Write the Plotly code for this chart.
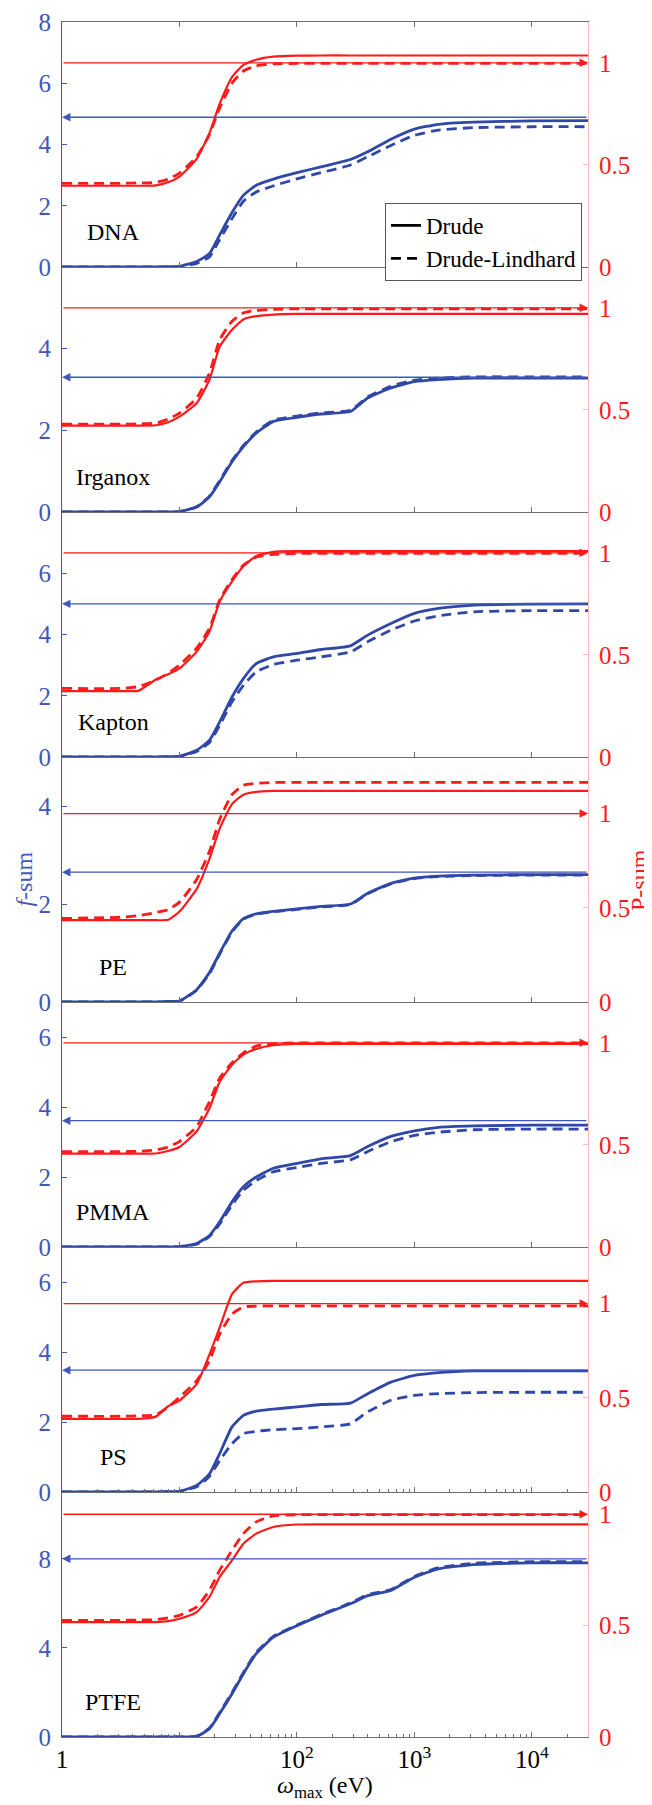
import math
import plotly.graph_objects as go
from plotly.subplots import make_subplots

# ---------------- data ----------------
energy_eV = [1, 3.2, 4.5, 6.3, 8, 10, 14, 18, 22, 28, 35, 45, 63, 100, 160, 285,
             400, 630, 1000, 1600, 3200, 10000, 30000]

materials = ["DNA", "Irganox", "Kapton", "PE", "PMMA", "PS", "PTFE"]

# f-sum, Drude model
f_drude = {
    "DNA":     [0, 0, 0, 0, 0.01, 0.02, 0.18, 0.44, 1.05, 1.78, 2.34, 2.67, 2.87, 3.08, 3.27, 3.51, 3.76, 4.17, 4.5, 4.66, 4.73, 4.77, 4.78],
    "Irganox": [0, 0, 0, 0, 0, 0.01, 0.12, 0.37, 0.74, 1.23, 1.6, 1.93, 2.22, 2.32, 2.4, 2.46, 2.79, 3.04, 3.19, 3.24, 3.28, 3.28, 3.28],
    "Kapton":  [0, 0, 0, 0, 0.01, 0.02, 0.22, 0.55, 1.15, 1.96, 2.56, 3.05, 3.27, 3.38, 3.51, 3.63, 3.98, 4.36, 4.69, 4.85, 4.96, 4.99, 5.0],
    "PE":      [0, 0, 0, 0, 0.01, 0.02, 0.25, 0.6, 1.0, 1.45, 1.7, 1.8, 1.85, 1.9, 1.95, 2.0, 2.22, 2.42, 2.53, 2.57, 2.59, 2.6, 2.6],
    "PMMA":    [0, 0, 0, 0, 0.005, 0.01, 0.1, 0.33, 0.72, 1.29, 1.72, 2.0, 2.25, 2.39, 2.52, 2.61, 2.87, 3.16, 3.32, 3.42, 3.46, 3.48, 3.48],
    "PS":      [0, 0, 0, 0, 0.01, 0.02, 0.19, 0.52, 1.1, 1.86, 2.19, 2.31, 2.37, 2.43, 2.5, 2.54, 2.81, 3.14, 3.33, 3.41, 3.46, 3.46, 3.46],
    "PTFE":    [0, 0, 0, 0, 0, 0, 0.03, 0.37, 1.05, 1.94, 2.84, 3.74, 4.48, 5.0, 5.46, 5.98, 6.35, 6.58, 7.17, 7.55, 7.74, 7.82, 7.82],
}
# f-sum, Drude-Lindhard model
f_dl = {
    "DNA":     [0, 0, 0, 0, 0.005, 0.01, 0.12, 0.33, 0.9, 1.58, 2.15, 2.45, 2.65, 2.88, 3.08, 3.33, 3.6, 3.97, 4.3, 4.47, 4.55, 4.58, 4.58],
    "Irganox": [0, 0, 0, 0, 0, 0.01, 0.13, 0.39, 0.77, 1.26, 1.63, 1.96, 2.25, 2.35, 2.43, 2.49, 2.82, 3.08, 3.23, 3.28, 3.31, 3.31, 3.31],
    "Kapton":  [0, 0, 0, 0, 0.01, 0.02, 0.18, 0.47, 1.04, 1.8, 2.34, 2.78, 3.02, 3.16, 3.27, 3.43, 3.76, 4.14, 4.44, 4.61, 4.74, 4.78, 4.78],
    "PE":      [0, 0, 0, 0, 0.01, 0.02, 0.24, 0.58, 0.98, 1.43, 1.69, 1.79, 1.84, 1.89, 1.94, 1.99, 2.21, 2.41, 2.52, 2.56, 2.58, 2.59, 2.59],
    "PMMA":    [0, 0, 0, 0, 0.005, 0.01, 0.08, 0.3, 0.66, 1.2, 1.62, 1.9, 2.15, 2.27, 2.39, 2.49, 2.73, 3.01, 3.19, 3.28, 3.35, 3.37, 3.37],
    "PS":      [0, 0, 0, 0, 0.01, 0.02, 0.15, 0.45, 0.9, 1.38, 1.67, 1.73, 1.78, 1.81, 1.86, 1.95, 2.29, 2.62, 2.76, 2.81, 2.84, 2.85, 2.85],
    "PTFE":    [0, 0, 0, 0, 0, 0, 0.04, 0.4, 1.1, 2.0, 2.9, 3.8, 4.52, 5.03, 5.5, 6.02, 6.39, 6.62, 7.21, 7.6, 7.8, 7.87, 7.87],
}
# P-sum, Drude model
p_drude = {
    "DNA":     [0.398, 0.398, 0.398, 0.4, 0.415, 0.443, 0.53, 0.656, 0.8, 0.93, 0.99, 1.015, 1.03, 1.035, 1.036, 1.036, 1.036, 1.036, 1.036, 1.036, 1.036, 1.036, 1.036],
    "Irganox": [0.423, 0.423, 0.423, 0.425, 0.44, 0.467, 0.533, 0.648, 0.81, 0.893, 0.943, 0.959, 0.967, 0.97, 0.97, 0.97, 0.97, 0.97, 0.97, 0.97, 0.97, 0.97, 0.97],
    "Kapton":  [0.323, 0.323, 0.325, 0.38, 0.405, 0.434, 0.516, 0.615, 0.762, 0.86, 0.934, 0.984, 1.005, 1.008, 1.008, 1.008, 1.008, 1.008, 1.008, 1.008, 1.008, 1.008, 1.008],
    "PE":      [0.434, 0.434, 0.434, 0.434, 0.436, 0.48, 0.6, 0.76, 0.92, 1.05, 1.1, 1.115, 1.12, 1.12, 1.12, 1.12, 1.12, 1.12, 1.12, 1.12, 1.12, 1.12, 1.12],
    "PMMA":    [0.457, 0.457, 0.457, 0.458, 0.47, 0.49, 0.566, 0.68, 0.81, 0.893, 0.943, 0.97, 0.988, 0.995, 0.995, 0.995, 0.995, 0.995, 0.995, 0.995, 0.995, 0.995, 0.995],
    "PS":      [0.388, 0.388, 0.388, 0.4, 0.455, 0.485, 0.573, 0.73, 0.873, 1.05, 1.11, 1.118, 1.12, 1.12, 1.12, 1.12, 1.12, 1.12, 1.12, 1.12, 1.12, 1.12, 1.12],
    "PTFE":    [0.516, 0.516, 0.516, 0.516, 0.52, 0.531, 0.561, 0.629, 0.719, 0.793, 0.868, 0.913, 0.943, 0.954, 0.955, 0.955, 0.955, 0.955, 0.955, 0.955, 0.955, 0.955, 0.955],
}
# P-sum, Drude-Lindhard model
p_dl = {
    "DNA":     [0.41, 0.41, 0.412, 0.415, 0.43, 0.46, 0.54, 0.65, 0.78, 0.9, 0.96, 0.985, 0.995, 0.997, 0.997, 0.997, 0.997, 0.997, 0.997, 0.997, 0.997, 0.997, 0.997],
    "Irganox": [0.43, 0.43, 0.432, 0.435, 0.455, 0.484, 0.557, 0.68, 0.844, 0.934, 0.975, 0.987, 0.993, 0.995, 0.995, 0.995, 0.995, 0.995, 0.995, 0.995, 0.995, 0.995, 0.995],
    "Kapton":  [0.336, 0.336, 0.345, 0.377, 0.41, 0.45, 0.533, 0.631, 0.77, 0.869, 0.94, 0.979, 0.992, 0.997, 0.997, 0.997, 0.997, 0.997, 0.997, 0.997, 0.997, 0.997, 0.997],
    "PE":      [0.443, 0.45, 0.458, 0.475, 0.49, 0.53, 0.65, 0.8, 0.97, 1.1, 1.15, 1.16, 1.165, 1.165, 1.165, 1.165, 1.165, 1.165, 1.165, 1.165, 1.165, 1.165, 1.165],
    "PMMA":    [0.467, 0.467, 0.469, 0.475, 0.49, 0.516, 0.59, 0.713, 0.828, 0.902, 0.951, 0.984, 0.995, 1.0, 1.0, 1.0, 1.0, 1.0, 1.0, 1.0, 1.0, 1.0, 1.0],
    "PS":      [0.402, 0.402, 0.404, 0.41, 0.45, 0.503, 0.59, 0.697, 0.838, 0.944, 0.982, 0.986, 0.988, 0.988, 0.988, 0.988, 0.988, 0.988, 0.988, 0.988, 0.988, 0.988, 0.988],
    "PTFE":    [0.524, 0.524, 0.525, 0.527, 0.535, 0.546, 0.584, 0.659, 0.749, 0.838, 0.913, 0.966, 0.993, 0.998, 0.998, 0.998, 0.998, 0.998, 0.998, 0.998, 0.998, 0.998, 0.998],
}
# reference (expected) sums, drawn as arrows
f_ref = [4.89, 3.30, 5.0, 2.65, 3.61, 3.48, 8.0]
p_ref = [1, 1, 1, 1, 1, 1, 1]

# axis settings per panel
f_range_top = [8, 6, 8, 5, 7, 7, 11]
p_range_top = [1.2, 1.2, 1.2, 1.3, 1.2, 1.3, 1.1]
f_ticks = [[0, 2, 4, 6, 8], [0, 2, 4], [0, 2, 4, 6], [0, 2, 4], [0, 2, 4, 6], [0, 2, 4, 6], [0, 4, 8]]
p_ticks = [0, 0.5, 1]
p_ticktext = ["0", "0.5", "1"]
x_tickvals = [1, 10, 100, 1000, 10000]
x_ticktext = ["1", "", "10<sup>2</sup>", "10<sup>3</sup>", "10<sup>4</sup>"]
x_minor = [m * 10 ** d for d in range(0, 5) for m in range(2, 10) if m * 10 ** d < 30000]

# ---------------- styling ----------------
SERIF = "Liberation Serif"
BLUE = "#3047A8"
BLUE_TXT = "#4057BA"
RED = "#FF1A1A"
RED_AX = "#FFB8B8"
GRAY = "#6E6E6E"

fig = make_subplots(rows=7, cols=1, shared_xaxes=True, vertical_spacing=0,
                    specs=[[{"secondary_y": True}] for _ in range(7)])

for i, m in enumerate(materials):
    r = i + 1
    fig.add_trace(go.Scatter(x=energy_eV, y=f_drude[m], mode="lines", showlegend=False,
                             line=dict(color=BLUE, width=2.8, shape="spline", smoothing=0.5)),
                  row=r, col=1, secondary_y=False)
    fig.add_trace(go.Scatter(x=energy_eV, y=f_dl[m], mode="lines", showlegend=False,
                             line=dict(color=BLUE, width=2.8, dash="10px,6px", shape="spline", smoothing=0.5)),
                  row=r, col=1, secondary_y=False)
    fig.add_trace(go.Scatter(x=energy_eV, y=p_drude[m], mode="lines", showlegend=False,
                             line=dict(color=RED, width=2.2, shape="spline", smoothing=0.5)),
                  row=r, col=1, secondary_y=True)
    fig.add_trace(go.Scatter(x=energy_eV, y=p_dl[m], mode="lines", showlegend=False,
                             line=dict(color=RED, width=2.8, dash="10px,6px", shape="spline", smoothing=0.5)),
                  row=r, col=1, secondary_y=True)

# legend entries
fig.add_trace(go.Scatter(x=[None], y=[None], mode="lines", name="Drude",
                         line=dict(color="black", width=2.8)), row=1, col=1)
fig.add_trace(go.Scatter(x=[None], y=[None], mode="lines", name="Drude-Lindhard",
                         line=dict(color="black", width=2.8, dash="10px,6px")), row=1, col=1)

x_lo, x_hi = 0, math.log10(energy_eV[-1])
annotations = []
for i, m in enumerate(materials):
    r = i + 1
    xa = "x" if r == 1 else f"x{r}"
    yp = "y" if r == 1 else f"y{2 * r - 1}"
    ys = f"y{2 * r}"
    fig.update_yaxes(row=r, col=1, secondary_y=False, range=[0, f_range_top[i]],
                     tickmode="array", tickvals=f_ticks[i], ticks="inside", ticklen=5,
                     tickcolor=BLUE_TXT, showline=True, linecolor=BLUE_TXT, linewidth=1,
                     tickfont=dict(family=SERIF, size=25, color=BLUE_TXT),
                     showgrid=False, zeroline=False, ticklabelstandoff=5, automargin=False)
    fig.update_yaxes(row=r, col=1, secondary_y=True, range=[0, p_range_top[i]],
                     tickmode="array", tickvals=p_ticks, ticktext=p_ticktext,
                     ticks="inside", ticklen=5, tickcolor=RED_AX, showline=True,
                     linecolor=RED_AX, linewidth=1,
                     tickfont=dict(family=SERIF, size=25, color=RED),
                     showgrid=False, zeroline=False, ticklabelstandoff=5, automargin=False)
    xkw = dict(type="log", range=[x_lo, x_hi], domain=[0, 1], showline=True, linecolor=GRAY,
               linewidth=1, ticks="inside", ticklen=5, tickcolor=GRAY, tickmode="array",
               tickvals=x_tickvals, ticktext=x_ticktext, showgrid=False, zeroline=False,
               showticklabels=(r == 7), automargin=False,
               tickfont=dict(family=SERIF, size=25, color="black"))
    if r == 1:
        xkw["mirror"] = "ticks"
    if r in (6, 7):
        xkw["minor"] = dict(ticks="inside", ticklen=3, tickcolor=GRAY, tickvals=x_minor)
    fig.update_xaxes(row=r, col=1, **xkw)

    # reference arrows
    annotations.append(dict(x=x_hi, y=p_ref[i], xref=xa, yref=ys, ax=x_lo, ay=p_ref[i],
                            axref=xa, ayref=ys, showarrow=True, text="", arrowhead=2,
                            arrowsize=1.3, arrowwidth=1.3, arrowcolor=RED, standoff=0))
    annotations.append(dict(x=x_lo, y=f_ref[i], xref=xa, yref=yp, ax=x_hi, ay=f_ref[i],
                            axref=xa, ayref=yp, showarrow=True, text="", arrowhead=2,
                            arrowsize=1.3, arrowwidth=1.3, arrowcolor=BLUE_TXT, standoff=0))
    # material label
    annotations.append(dict(x=0.435, y=35 / 245, xref=xa, yref=f"{yp} domain", text=m,
                            showarrow=False, xanchor="center", yanchor="middle",
                            font=dict(family=SERIF, size=24, color="black")))

annotations.append(dict(x=-0.074, y=0.5, xref="paper", yref="paper", text="<i>f</i>-sum",
                        showarrow=False, textangle=-90, xanchor="center", yanchor="middle",
                        font=dict(family=SERIF, size=24, color=BLUE_TXT)))
annotations.append(dict(x=1.096, y=0.5, xref="paper", yref="paper", text="P-sum",
                        showarrow=False, textangle=-90, xanchor="center", yanchor="middle",
                        font=dict(family=SERIF, size=24, color=RED)))
annotations.append(dict(x=0.5, y=-0.029, xref="paper", yref="paper",
                        text="<i>ω</i><sub>max</sub> (eV)", showarrow=False,
                        xanchor="center", yanchor="middle",
                        font=dict(family=SERIF, size=24, color="black")))

# page body has an 8 px margin, so the figure is 8 px smaller than the window
fig.update_layout(
    width=644, height=1797,
    margin=dict(l=54, r=64, t=14, b=68, autoexpand=False),
    paper_bgcolor="white", plot_bgcolor="white",
    annotations=annotations,
    showlegend=True,
    legend=dict(x=0.9886, xanchor="right", y=0.8945, yanchor="top",
                bgcolor="white", bordercolor="#555555", borderwidth=1,
                font=dict(family=SERIF, size=23, color="black"),
                tracegroupgap=0, itemwidth=30),
)

fig.write_html("out.html")
